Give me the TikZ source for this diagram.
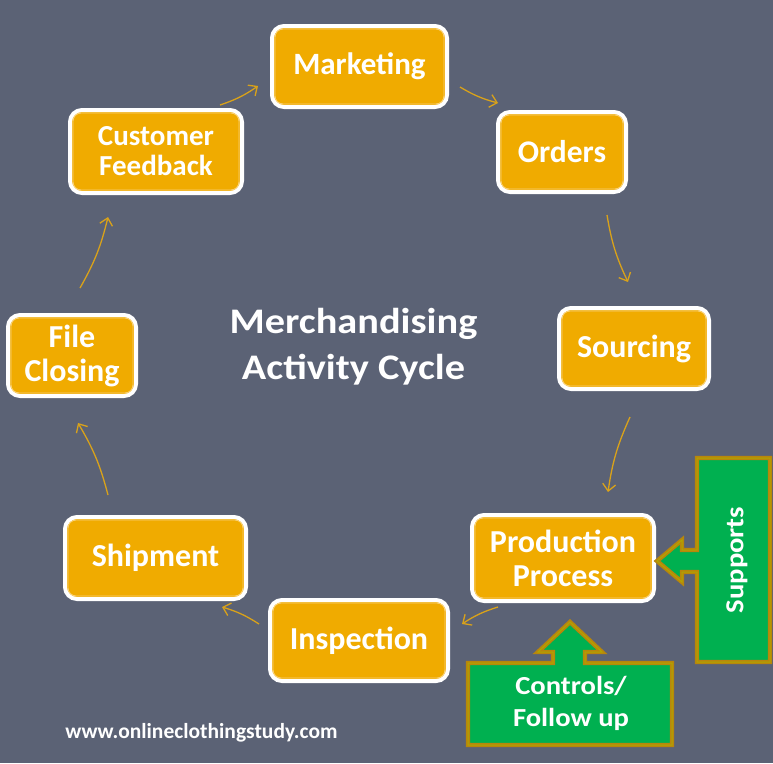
\documentclass[tikz,border=0pt]{standalone}
\usepackage{fontspec}
\setmainfont{Carlito}
\newfontfamily\widefont{Carlito}[FakeStretch=1.12]
\newfontfamily\grnfont{Carlito}[FakeStretch=1.1]
\usetikzlibrary{arrows.meta}
\definecolor{bgc}{HTML}{5B6275}
\definecolor{boxor}{HTML}{F0AB00}
\definecolor{boxin}{HTML}{F9D27A}
\definecolor{arrc}{HTML}{D9A21A}
\definecolor{grn}{HTML}{00B050}
\definecolor{gold}{HTML}{B8860B}
\tikzset{
  orbox/.style={draw=white, line width=4pt, fill=boxor, rounded corners=12pt,
    inner sep=0pt, align=center, text=white, font=\bfseries\fontsize{32}{34}\selectfont},
  inline/.style={draw=boxin, line width=0.9pt, rounded corners=8pt},
  cyc/.style={draw=arrc, line width=1.3pt, -{Straight Barb[length=7pt,width=13pt,line width=1.3pt]}, bend right=8},
  grnshape/.style={fill=grn, draw=gold, line width=1.7pt, double=olive!70!yellow, double distance=1pt, line join=miter},
  grntext/.style={text=white, align=center, font=\grnfont\bfseries\fontsize{26}{32}\selectfont},
}
\begin{document}
\begin{tikzpicture}[x=1pt,y=-1pt]
\fill[bgc] (0,0) rectangle (773,763);
\useasboundingbox (0,0) rectangle (773,763);

\node[orbox, minimum width=175pt, minimum height=81pt, font=\bfseries\fontsize{31}{34}\selectfont] (mk) at (359.5,66.5) {Marketing};
\node[orbox, minimum width=128pt, minimum height=80pt, font=\bfseries\fontsize{31.5}{34}\selectfont] (od) at (562,152) {Orders};
\node[orbox, minimum width=172pt, minimum height=83pt, font=\bfseries\fontsize{29}{30}\selectfont] (cf) at (156,151.5) {Customer\\Feedback};
\node[orbox, minimum width=150pt, minimum height=81pt] (sc) at (634,348.5) {Sourcing};
\node[orbox, minimum width=128pt, minimum height=81pt, font=\bfseries\fontsize{32}{34}\selectfont] (fc) at (72,355.5) {File\\Closing};
\node[orbox, minimum width=182pt, minimum height=86pt, font=\bfseries\fontsize{32}{34}\selectfont] (pp) at (563,558) {Production\\Process};
\node[orbox, minimum width=181pt, minimum height=82pt] (sh) at (155.5,558) {Shipment};
\node[orbox, minimum width=178pt, minimum height=81pt] (ip) at (359,640.5) {Inspection};

\foreach \n in {mk,od,cf,sc,fc,pp,sh,ip}{
  \draw[inline] ([xshift=5pt,yshift=-5pt]\n.north west) rectangle ([xshift=-5pt,yshift=5pt]\n.south east);
}

\node[text=white, align=center, font=\widefont\bfseries\fontsize{36}{46}\selectfont] (title) at (353.5,347) {Merchandising\\Activity Cycle};

\coordinate (a1s) at (220,105); \coordinate (a1e) at (258,86);
\coordinate (a2s) at (460,87);  \coordinate (a2e) at (498,103);
\coordinate (a3s) at (607,215); \coordinate (a3e) at (628,282);
\coordinate (a4s) at (630,417); \coordinate (a4e) at (608,492);
\coordinate (a5s) at (498,607); \coordinate (a5e) at (462,624);
\coordinate (a6s) at (259,624); \coordinate (a6e) at (222,607);
\coordinate (a7s) at (108,495); \coordinate (a7e) at (78,423);
\coordinate (a8s) at (80,288);  \coordinate (a8e) at (108,217);
\foreach \i in {1,...,8}{ \draw[cyc] (a\i s) to (a\i e); }

\draw[grnshape] (770,458) -- (697,458) -- (697,550) -- (682,550) -- (682,540) -- (657,561)
  -- (682,582) -- (682,572) -- (697,572) -- (697,662) -- (770,662) -- cycle;
\draw[grnshape] (468,663) -- (553,663) -- (553,652) -- (538,652) -- (570,622) -- (602,652)
  -- (585,652) -- (585,663) -- (672,663) -- (672,745) -- (468,745) -- cycle;

\node[grntext, rotate=90] (sup) at (737,560) {Supports};
\node[grntext] (ctl) at (571,703) {Controls/\\Follow up};

\node[text=white, font=\bfseries\fontsize{21.5}{24}\selectfont] (url) at (201.5,733) {www.onlineclothingstudy.com};
\end{tikzpicture}
\end{document}
